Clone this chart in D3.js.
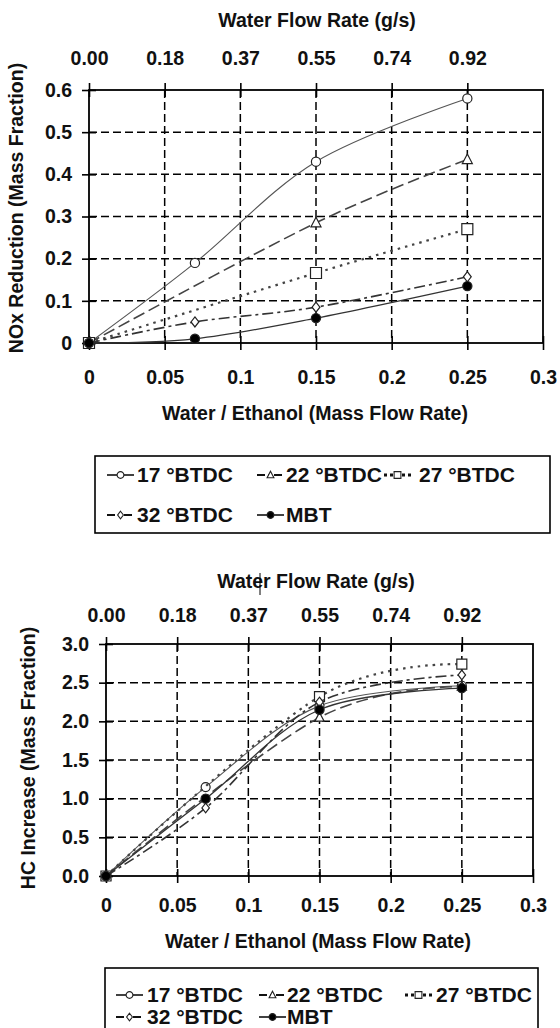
<!DOCTYPE html>
<html>
<head>
<meta charset="utf-8">
<script src="https://cdn.jsdelivr.net/npm/d3@7"></script>
<style>
  body { margin: 0; background: #fff; }
  text { font-family: "Liberation Sans", Arial, sans-serif; font-weight: bold; fill: #111; }
</style>
</head>
<body>
<div id="chart"></div>
<script>
// water / ethanol mass flow ratio where each timing was measured
const ratioFull = [0, 0.07, 0.15, 0.25];
const ratioShort = [0, 0.15, 0.25];   // 22 and 27 BTDC have no 0.07 point

const seriesNames = ['17 °BTDC', '22 °BTDC', '27 °BTDC', '32 °BTDC', 'MBT'];

// NOx reduction (mass fraction)
const nox17 = [0, 0.19, 0.43, 0.58];
const nox22 = [0, 0.285, 0.435];
const nox27 = [0, 0.166, 0.27];
const nox32 = [0, 0.05, 0.085, 0.157];
const noxMBT = [0, 0.01, 0.059, 0.135];

// HC increase (mass fraction)
const hc17 = [0, 1.15, 2.2, 2.46];
const hc22 = [0, 2.05, 2.45];
const hc27 = [0, 2.32, 2.74];
const hc32 = [0, 0.88, 2.25, 2.6];
const hcMBT = [0, 1.0, 2.15, 2.43];

// axis ticks
const ratioTicks = [0, 0.05, 0.1, 0.15, 0.2, 0.25, 0.3];
const flowTicks = [0, 0.05, 0.1, 0.15, 0.2, 0.25];
const flowLabels = ['0.00', '0.18', '0.37', '0.55', '0.74', '0.92'];
const noxTicks = [0, 0.1, 0.2, 0.3, 0.4, 0.5, 0.6];
const hcTicks = [0, 0.5, 1.0, 1.5, 2.0, 2.5, 3.0];

const width = 560, height = 1028;

let svg = d3.select('#chart')
  .append('svg')
  .attr('width', width)
  .attr('height', height)
  .style('display', 'block')
  .style('background', '#fff');

// line / marker look of each series, in legend order
let styles = [
  { dash: null, marker: 'circle', fill: '#fff', stroke: '#555', sw: 1.1 },
  { dash: '12,5', marker: 'triangle', fill: '#fff', stroke: '#444', sw: 1.6 },
  { dash: '2.5,5', marker: 'square', fill: '#fff', stroke: '#444', sw: 2.2 },
  { dash: '11,4,3,4', marker: 'diamond', fill: '#fff', stroke: '#333', sw: 1.6 },
  { dash: null, marker: 'circle', fill: '#000', stroke: '#333', sw: 1.3 }
];

// marker paths centred on 0,0
function markerPath(type, s) {
  if (type == 'circle') {
    return d3.symbol(d3.symbolCircle, Math.PI * s * s)();
  }
  if (type == 'square') {
    return `M${-s},${-s}H${s}V${s}H${-s}Z`;
  }
  if (type == 'triangle') {
    return `M0,${-s * 1.1}L${s},${s * 0.8}H${-s}Z`;
  }
  return `M0,${-s * 1.1}L${s * 0.85},0L0,${s * 1.1}L${-s * 0.85},0Z`;
}

function drawChart(cfg) {
  let g = svg.append('g');

  let x = d3.scaleLinear().domain([0, 0.3]).range([cfg.left, cfg.right]);
  let y = d3.scaleLinear().domain([0, cfg.yMax]).range([cfg.bottom, cfg.top]);

  // dashed grid
  g.append('g')
    .selectAll('line')
    .data(ratioTicks.slice(1, -1))
    .enter()
    .append('line')
      .attr('x1', d => x(d)).attr('x2', d => x(d))
      .attr('y1', cfg.top).attr('y2', cfg.bottom)
      .attr('stroke', '#000').attr('stroke-width', 1.5)
      .attr('stroke-dasharray', '8,4');
  g.append('g')
    .selectAll('line')
    .data(cfg.yTicks.slice(1, -1))
    .enter()
    .append('line')
      .attr('x1', cfg.left).attr('x2', cfg.right)
      .attr('y1', d => y(d)).attr('y2', d => y(d))
      .attr('stroke', '#000').attr('stroke-width', 1.5)
      .attr('stroke-dasharray', '8,4');

  // frame
  g.append('rect')
    .attr('x', cfg.left).attr('y', cfg.top)
    .attr('width', cfg.right - cfg.left).attr('height', cfg.bottom - cfg.top)
    .attr('fill', 'none').attr('stroke', '#000').attr('stroke-width', 1.8);

  // axes
  let xAxis = d3.axisBottom(x).tickValues(ratioTicks).tickSize(7)
    .tickPadding(cfg.bottomPad).tickFormat(d3.format(''));
  let gx = g.append('g').attr('transform', `translate(0,${cfg.bottom})`).call(xAxis);
  gx.selectAll('.tick line').attr('y1', -7);

  let topAxis = d3.axisTop(x).tickValues(flowTicks).tickSize(7)
    .tickPadding(cfg.topPad).tickFormat((d, i) => flowLabels[i]);
  let gt = g.append('g').attr('transform', `translate(0,${cfg.top})`).call(topAxis);
  gt.selectAll('.tick line').attr('y1', 7);

  let yAxis = d3.axisLeft(y).tickValues(cfg.yTicks).tickSize(7)
    .tickPadding(10).tickFormat(cfg.yFormat);
  let gy = g.append('g').attr('transform', `translate(${cfg.left},0)`).call(yAxis);
  gy.selectAll('.tick line').attr('x1', 7);

  [gx, gt, gy].forEach(a => {
    a.select('.domain').remove();
    a.selectAll('.tick line').attr('stroke', '#000').attr('stroke-width', 1.6);
    a.selectAll('text').attr('font-size', 19.5).attr('font-family', null).attr('fill', '#111');
  });

  // titles
  g.append('text')
    .attr('x', cfg.topTitle[0]).attr('y', cfg.topTitle[1]).attr('dy', '0.35em')
    .attr('text-anchor', 'middle').attr('font-size', 19.5)
    .text('Water Flow Rate (g/s)');
  g.append('text')
    .attr('x', cfg.bottomTitle[0]).attr('y', cfg.bottomTitle[1]).attr('dy', '0.35em')
    .attr('text-anchor', 'middle').attr('font-size', 19.5)
    .text('Water / Ethanol (Mass Flow Rate)');
  g.append('text')
    .attr('transform', `translate(${cfg.yTitle[0]},${cfg.yTitle[1]}) rotate(-90)`)
    .attr('dy', '0.35em')
    .attr('text-anchor', 'middle').attr('font-size', 19.5)
    .text(cfg.yLabel);

  // series
  let line = d3.line()
    .x(d => x(d[0]))
    .y(d => y(d[1]))
    .curve(d3.curveCardinal.tension(0));

  cfg.series.forEach((s, i) => {
    let st = styles[i];
    let pts = s.xs.map((v, j) => [v, s.ys[j]]);
    g.append('path')
      .datum(pts)
      .attr('d', line)
      .attr('fill', 'none')
      .attr('stroke', st.stroke)
      .attr('stroke-width', st.sw)
      .attr('stroke-dasharray', st.dash);
    g.append('g')
      .selectAll('path')
      .data(pts)
      .enter()
      .append('path')
        .attr('transform', d => `translate(${x(d[0])},${y(d[1])})`)
        .attr('d', markerPath(st.marker, cfg.markerSize[i]))
        .attr('fill', st.fill)
        .attr('stroke', '#222')
        .attr('stroke-width', 1.2);
  });

  // legend
  let lg = cfg.legend;
  g.append('rect')
    .attr('x', lg.box[0]).attr('y', lg.box[1])
    .attr('width', lg.box[2] - lg.box[0]).attr('height', lg.box[3] - lg.box[1])
    .attr('fill', '#fff').attr('stroke', '#000').attr('stroke-width', 1.6);

  seriesNames.forEach((name, i) => {
    let st = styles[i];
    let row = Math.floor(i / 3), col = i % 3;
    let sx = lg.symX[col], ty = lg.rows[row];
    let item = g.append('g');
    item.append('line')
      .attr('x1', sx).attr('x2', sx + 27)
      .attr('y1', ty).attr('y2', ty)
      .attr('stroke', '#111')
      .attr('stroke-width', st.dash ? st.sw + 0.6 : 1.6)
      .attr('stroke-dasharray', st.dash ? (i == 2 ? '3,3' : '8,3,3,3') : null);
    item.append('path')
      .attr('transform', `translate(${sx + 13.5},${ty})`)
      .attr('d', markerPath(st.marker, 3.4))
      .attr('fill', st.fill)
      .attr('stroke', '#222')
      .attr('stroke-width', 1.1);
    item.append('text')
      .attr('x', lg.textX[col]).attr('y', ty).attr('dy', '0.35em')
      .attr('font-size', 21)
      .text(name);
  });

  return g;
}

drawChart({
  left: 89, right: 543, top: 90, bottom: 343,
  yMax: 0.6, yTicks: noxTicks, yFormat: d3.format(''),
  topPad: 18, bottomPad: 20,
  topTitle: [317, 20], bottomTitle: [315, 413], yTitle: [16, 208],
  yLabel: 'NOx Reduction (Mass Fraction)',
  markerSize: [4.6, 5, 5.5, 4.6, 4.6],
  series: [
    { xs: ratioFull, ys: nox17 },
    { xs: ratioShort, ys: nox22 },
    { xs: ratioShort, ys: nox27 },
    { xs: ratioFull, ys: nox32 },
    { xs: ratioFull, ys: noxMBT }
  ],
  legend: {
    box: [95, 456, 550, 533],
    rows: [475, 515],
    symX: [107, 257, 384],
    textX: [137, 286, 419]
  }
});

let hc = drawChart({
  left: 106, right: 533, top: 644, bottom: 876,
  yMax: 3, yTicks: hcTicks, yFormat: d3.format('.1f'),
  topPad: 15, bottomPad: 15,
  topTitle: [316, 581], bottomTitle: [318, 941], yTitle: [28, 758],
  yLabel: 'HC Increase (Mass Fraction)',
  markerSize: [4.5, 4.6, 5, 4.4, 4.6],
  series: [
    { xs: ratioFull, ys: hc17 },
    { xs: ratioShort, ys: hc22 },
    { xs: ratioShort, ys: hc27 },
    { xs: ratioFull, ys: hc32 },
    { xs: ratioFull, ys: hcMBT }
  ],
  legend: {
    box: [105, 968, 538, 1040],
    rows: [995, 1017],
    symX: [116, 259, 405],
    textX: [147, 287, 436]
  }
});

// stray caret mark in the HC chart title
hc.append('line')
  .attr('x1', 260).attr('x2', 260)
  .attr('y1', 573).attr('y2', 595)
  .attr('stroke', '#000').attr('stroke-width', 1);
</script>
</body>
</html>
